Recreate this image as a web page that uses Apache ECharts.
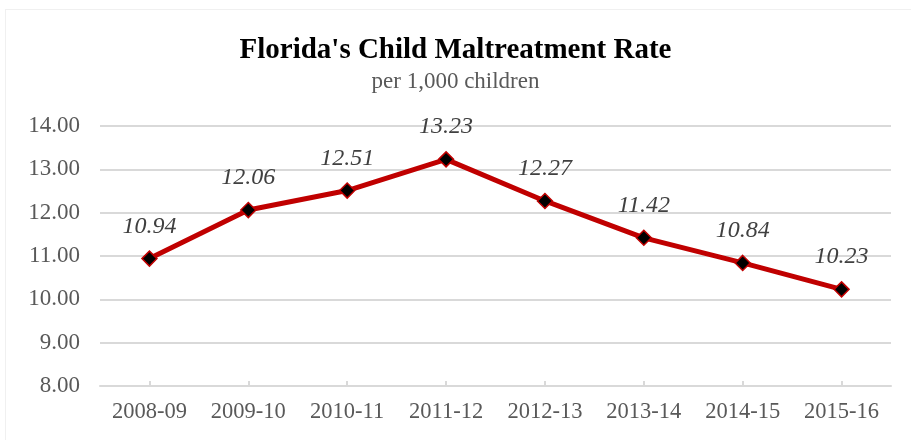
<!DOCTYPE html>
<html>
<head>
<meta charset="utf-8">
<script src="https://cdn.jsdelivr.net/npm/echarts@6/dist/echarts.min.js"></script>
<style>
  html, body { margin: 0; padding: 0; background: #fff; }
  #main { position: absolute; left: 5px; top: 9px; width: 920px; height: 440px; border: 1px solid #f0f0f0; box-sizing: border-box; }
  #chart { width: 911px; height: 440px; }
</style>
</head>
<body>
<div id="main"></div>
<div id="chart" style="position:absolute;left:0;top:0"></div>
<script>
// years and rates
var years = ['2008-09', '2009-10', '2010-11', '2011-12', '2012-13', '2013-14', '2014-15', '2015-16'];
var rates = [10.94, 12.06, 12.51, 13.23, 12.27, 11.42, 10.84, 10.23];

var chart = echarts.init(document.getElementById('chart'));
var serif = '"Liberation Serif", "Times New Roman", serif';

var option = {
    animation: false,
    title: {
        text: "Florida's Child Maltreatment Rate",
        subtext: 'per 1,000 children',
        left: 'center',
        top: 31,
        itemGap: 5,
        textStyle: { fontFamily: serif, fontSize: 29, fontWeight: 'bold', color: '#000' },
        subtextStyle: { fontFamily: serif, fontSize: 23, color: '#595959' }
    },
    grid: { left: 100, right: 20, top: 126, bottom: 54 },
    xAxis: {
        type: 'category',
        data: years,
        boundaryGap: true,
        axisLine: { lineStyle: { color: '#d9d9d9', width: 2 } },
        axisTick: { show: true, inside: true, alignWithLabel: true, interval: 0, length: 5, lineStyle: { color: '#d9d9d9', width: 2 } },
        axisLabel: { interval: 0, hideOverlap: false, fontFamily: serif, fontSize: 22.5, color: '#595959', margin: 15 }
    },
    yAxis: {
        type: 'value',
        min: 8,
        max: 14,
        interval: 1,
        axisLine: { show: false },
        axisTick: { show: false },
        axisLabel: {
            fontFamily: serif, fontSize: 23, color: '#595959', margin: 20,
            formatter: function (v) { return v.toFixed(2); }
        },
        splitLine: { lineStyle: { color: '#d9d9d9', width: 2 } }
    },
    series: [{
        type: 'line',
        data: rates,
        symbol: 'diamond',
        symbolSize: 15,
        lineStyle: { color: '#c00000', width: 5 },
        itemStyle: { color: '#000', borderColor: '#c00000', borderWidth: 1.5 },
        label: {
            show: true,
            position: 'top',
            distance: 12,
            fontFamily: serif,
            fontSize: 24,
            fontStyle: 'italic',
            color: '#404040',
            formatter: function (p) { return p.value.toFixed(2); }
        }
    }]
};
chart.setOption(option);
</script>
</body>
</html>
